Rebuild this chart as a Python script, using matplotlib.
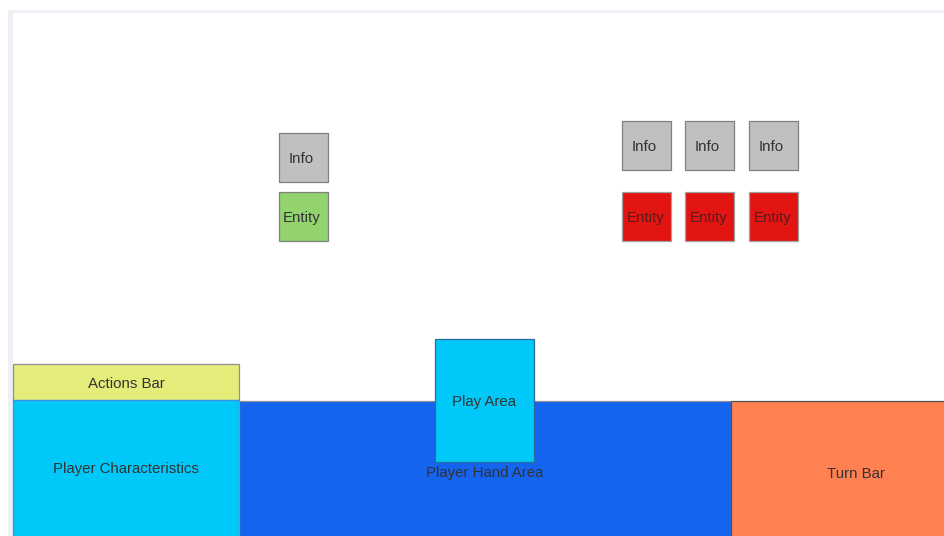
import matplotlib.pyplot as plt
from matplotlib.patches import Rectangle

plt.rcParams['font.family'] = ['Liberation Sans', 'DejaVu Sans']

# labels of the mockup blocks
info_labels = ["Info", "Info", "Info", "Info"]
entity_labels = ["Entity", "Entity", "Entity", "Entity"]
bar_labels = ["Actions Bar", "Player Characteristics", "Player Hand Area", "Turn Bar"]
play_label = "Play Area"

W, H = 944, 536
fig = plt.figure(figsize=(W / 100, H / 100), dpi=100)
ax = fig.add_axes([0, 0, 1, 1])
ax.set_xlim(0, W)
ax.set_ylim(H, 0)
ax.axis("off")

# page frame
ax.add_patch(Rectangle((8, 10), W, H, facecolor="#edf0f5", edgecolor="none"))
ax.add_patch(Rectangle((13, 13), W, H, facecolor="white", edgecolor="none"))

txt = "#333333"
fs = 10.8


def box(x, y, w, h, fc, ec, label, ty=None, tx=None, z=2, tc=txt):
    ax.add_patch(Rectangle((x, y), w, h, facecolor=fc, edgecolor=ec, lw=0.9, zorder=z))
    ax.text(x + w / 2 if tx is None else tx, (y + h / 2 if ty is None else ty) + 1.5, label,
            ha="center", va="center", fontsize=fs, color=tc, zorder=z + 1)


# left player entity
box(279, 133, 49, 49, "#c0c0c0", "#808080", info_labels[0], tx=301.5)
box(279, 192, 49, 49, "#92d36e", "#808080", entity_labels[0], tx=302)

# opponent entities
for i, x in enumerate([622, 685, 749]):
    box(x, 121, 49, 49, "#c0c0c0", "#808080", info_labels[i + 1], tx=x + 22.5)
    box(x, 192, 49, 49, "#e31512", "#a0a0a0", entity_labels[i + 1], tx=x + 24, tc="#5a1a1a")

# bottom bars
box(13, 364, 226, 36, "#e5ec7a", "#909090", bar_labels[0])
box(13, 400, 226, 140, "#00c8f8", "#3a8ee8", bar_labels[1], ty=467)
box(239, 401, 492, 140, "#1464f0", "#909090", bar_labels[2], ty=472, tx=485)
box(731, 401, 220, 140, "#ff8050", "#505050", bar_labels[3], ty=472, tx=856)

# play area over the hand
box(435, 339, 99, 123, "#00c8f8", "#2a6c9a", play_label, z=4)

fig.savefig("out.png", dpi=100)
